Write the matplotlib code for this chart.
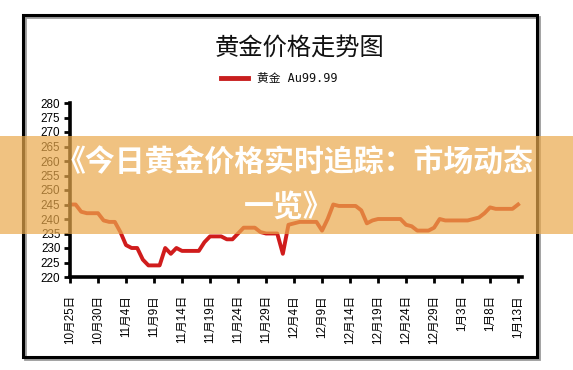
import matplotlib
matplotlib.use("Agg")
import matplotlib.pyplot as plt
from matplotlib.patches import Rectangle

# ---- data ----
tick_labels = ["10月25日", "10月30日", "11月4日", "11月9日", "11月14日", "11月19日",
               "11月24日", "11月29日", "12月4日", "12月9日", "12月14日", "12月19日",
               "12月24日", "12月29日", "1月3日", "1月8日", "1月13日"]
prices = [245, 245, 242.5, 242, 242, 242, 239.5, 239, 239, 235.5,
          231, 230, 230, 226, 224, 224, 224, 230, 228, 230,
          229, 229, 229, 229, 232, 234, 234, 234, 233, 233,
          235, 237, 237, 237, 235.5, 235, 235, 235, 228, 238,
          238.5, 239, 239, 239, 239, 236, 240, 245, 244.5, 244.5,
          244.5, 244.5, 243, 238.5, 239.5, 240, 240, 240, 240, 240,
          238, 237.5, 236, 236, 236, 237, 240, 239.5, 239.5, 239.5,
          239.5, 239.5, 240, 240.5, 242, 244, 243.5, 243.5, 243.5, 243.5,
          245]
days = list(range(len(prices)))
tick_pos = list(range(0, 81, 5))
y_ticks = list(range(220, 281, 5))

title = "黄金价格走势图"
legend_label = "黄金 Au99.99"
banner_line1 = "《今日黄金价格实时追踪：市场动态"
banner_line2 = "一览》"

W, H = 573, 370
fig = plt.figure(figsize=(W / 100, H / 100), dpi=100)
fig.patch.set_facecolor("white")

# outer frame with shadow
fig.patches.append(Rectangle((25 / W, 1 - 359 / H), 514 / W, 342 / H, transform=fig.transFigure,
                             fill=False, edgecolor="#9a9a9a", linewidth=2.0, zorder=1))
fig.patches.append(Rectangle((23 / W, 1 - 357 / H), 514 / W, 342 / H, transform=fig.transFigure,
                             fill=False, edgecolor="black", linewidth=2.2, zorder=2))

# axes
left, right, bottom, top = 70, 522, 277, 103
ax = fig.add_axes([left / W, 1 - bottom / H, (right - left) / W, (bottom - top) / H])
ax.set_facecolor("none")
ax.plot(days, prices, color="#d01c1c", linewidth=2.8, solid_joinstyle="round", clip_on=False)
ax.set_xlim(0, 80.7)
ax.set_ylim(220, 280)
for s in ["top", "right"]:
    ax.spines[s].set_visible(False)
for s in ["left", "bottom"]:
    ax.spines[s].set_linewidth(2.6)
    ax.spines[s].set_color("black")
ax.set_yticks(y_ticks)
ax.set_yticklabels([str(v) for v in y_ticks], fontsize=8.4, family=["Liberation Sans"])
ax.set_xticks(tick_pos)
ax.set_xticklabels(tick_labels, rotation=90, fontsize=8.4,
                   family=["Liberation Sans", "Noto Sans CJK SC"], va="top")
ax.tick_params(axis="y", length=4, width=2, pad=3)
ax.tick_params(axis="x", length=4, width=2, pad=9)

# title and legend
fig.text(300 / W, 1 - 48 / H, title, ha="center", va="center", fontsize=17.5,
         family=["Noto Sans CJK SC"], color="#111111")
fig.lines.append(plt.Line2D([221 / W, 248 / W], [1 - 78 / H, 1 - 78 / H], transform=fig.transFigure,
                            color="#c81e1e", linewidth=3.5))
fig.text(257 / W, 1 - 78 / H, legend_label, ha="left", va="center", fontsize=8.5,
         family=["DejaVu Sans Mono", "Noto Sans CJK SC"], color="#111111")

# banner overlay
fig.patches.append(Rectangle((0, 1 - 234 / H), 1, 98 / H, transform=fig.transFigure,
                             facecolor=(234 / 255, 169 / 255, 76 / 255), alpha=0.7,
                             edgecolor="none", zorder=10))
fig.text(295 / W, 1 - 163 / H, banner_line1, ha="center", va="center", fontsize=21.5,
         family=["Noto Sans CJK SC"], weight="bold", color="white", zorder=11)
fig.text(289 / W, 1 - 207 / H, banner_line2, ha="center", va="center", fontsize=21.5,
         family=["Noto Sans CJK SC"], weight="bold", color="white", zorder=11)

fig.savefig("out.png", dpi=100)
